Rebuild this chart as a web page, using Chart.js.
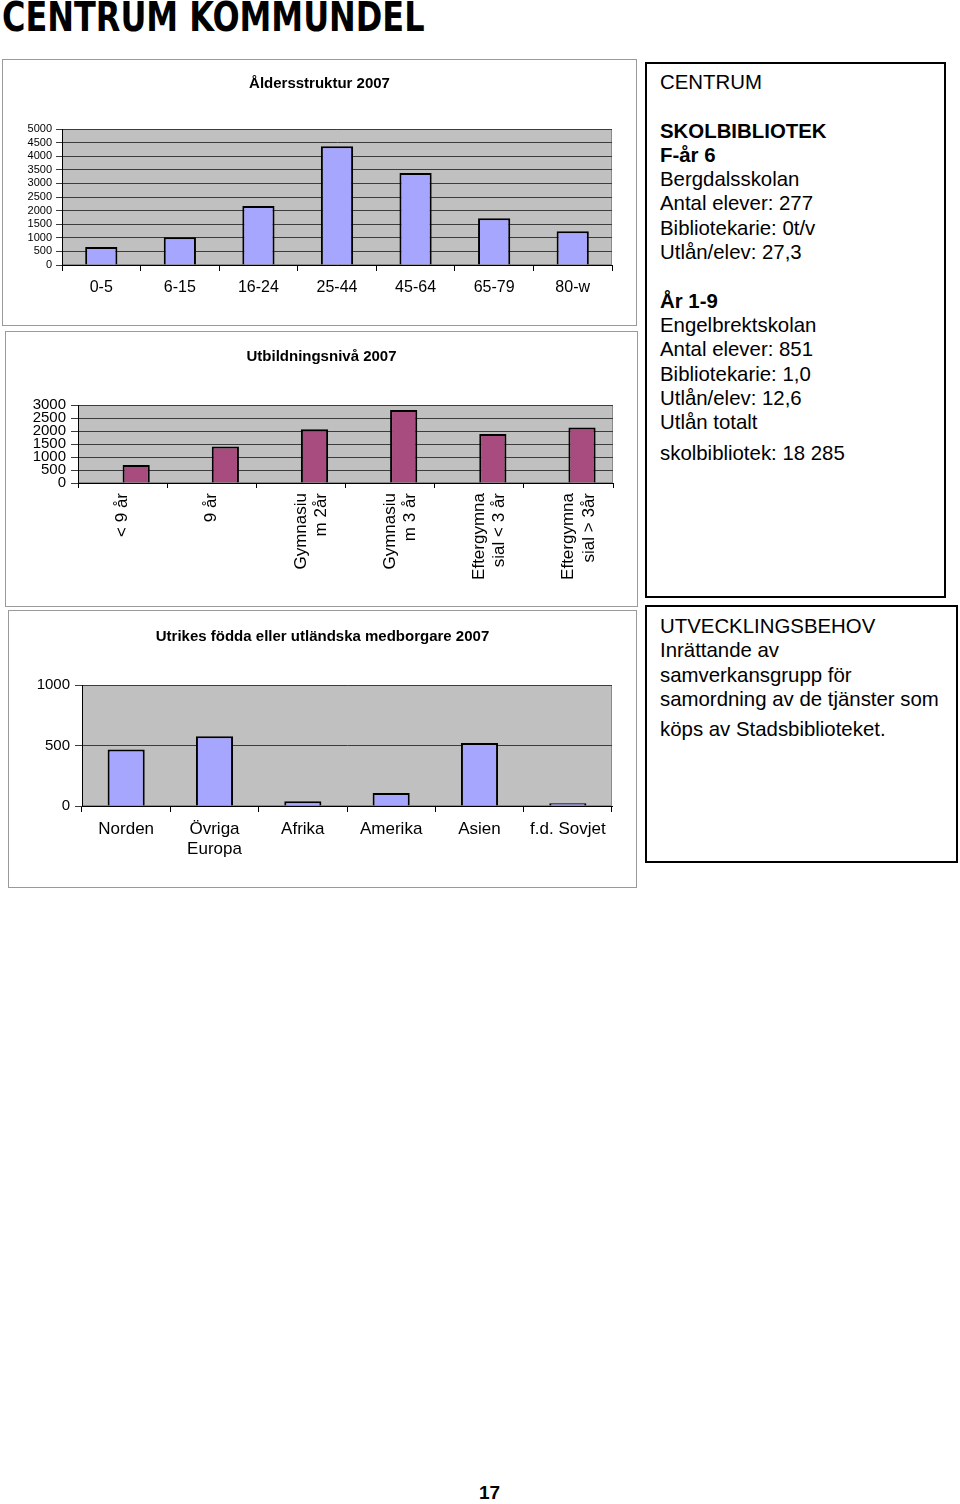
<!DOCTYPE html>
<html lang="sv">
<head>
<meta charset="utf-8">
<title>Centrum kommundel</title>
<script src="https://cdn.jsdelivr.net/npm/chart.js@4"></script>
<style>
  html, body { margin: 0; padding: 0; background: #fff; }
  body { width: 960px; height: 1504px; position: relative; font-family: "Liberation Sans", Arial, sans-serif; color: #000; overflow: hidden; }
  .page-title { position: absolute; left: 2px; top: -7px; font-family: "DejaVu Sans Condensed", "DejaVu Sans", sans-serif; font-weight: bold; font-size: 41px; white-space: nowrap; transform-origin: left top; transform: scaleX(0.866); }
  .chart-box { position: absolute; border: 1px solid #9a9a9a; background: #fff; }
  .chart-box canvas { display: block; }
  .text-box { position: absolute; border: 2px solid #000; box-sizing: border-box; padding-left: 13px; font-size: 20.4px; }
  .text-box div { height: 24.3px; line-height: 24.3px; white-space: nowrap; }
  .text-box .b { font-weight: bold; }
  .page-no { position: absolute; left: 479px; top: 1482px; font-size: 19px; font-weight: bold; }
</style>
</head>
<body>
<div class="page-title">CENTRUM KOMMUNDEL</div>

<div class="chart-box" style="left:2px; top:59px;">
  <canvas id="ageChart" width="633" height="265"></canvas>
</div>
<div class="chart-box" style="left:5px; top:331px;">
  <canvas id="eduChart" width="631" height="274"></canvas>
</div>
<div class="chart-box" style="left:8px; top:610px;">
  <canvas id="foreignChart" width="627" height="276"></canvas>
</div>

<div class="text-box" style="left:645px; top:62px; width:301px; height:536px; padding-top:6px;">
  <div>CENTRUM</div>
  <div></div>
  <div class="b">SKOLBIBLIOTEK</div>
  <div class="b">F-år 6</div>
  <div>Bergdalsskolan</div>
  <div>Antal elever: 277</div>
  <div>Bibliotekarie: 0t/v</div>
  <div>Utlån/elev: 27,3</div>
  <div></div>
  <div class="b">År 1-9</div>
  <div>Engelbrektskolan</div>
  <div>Antal elever: 851</div>
  <div>Bibliotekarie: 1,0</div>
  <div>Utlån/elev: 12,6</div>
  <div>Utlån totalt</div>
  <div style="margin-top:7px;">skolbibliotek: 18 285</div>
</div>

<div class="text-box" style="left:645px; top:605px; width:313px; height:258px; padding-top:7px;">
  <div>UTVECKLINGSBEHOV</div>
  <div>Inrättande av</div>
  <div>samverkansgrupp för</div>
  <div>samordning av de tjänster som</div>
  <div style="margin-top:6px;">köps av Stadsbiblioteket.</div>
</div>

<div class="page-no">17</div>

<script>
// ===== data =====
const ageGroups = ["0-5", "6-15", "16-24", "25-44", "45-64", "65-79", "80-w"];
const ageCounts = [660, 1020, 2170, 4370, 3380, 1720, 1240];
const ageMax = 5000;
const ageStep = 500;

const eduLevels = [
    ["< 9 år"],
    ["9 år"],
    ["Gymnasiu", "m 2år"],
    ["Gymnasiu", "m 3 år"],
    ["Eftergymna", "sial < 3 år"],
    ["Eftergymna", "sial > 3år"]
];
const eduHidden = [null, null, null, null, null, null];
const eduCounts = [690, 1400, 2065, 2805, 1885, 2130];
const eduMax = 3000;
const eduStep = 500;

const regions = ["Norden", ["Övriga", "Europa"], "Afrika", "Amerika", "Asien", "f.d. Sovjet"];
const foreignCounts = [466, 576, 39, 107, 521, 22];
const foreignMax = 1000;
const foreignStep = 500;

Chart.defaults.font.family = "'Liberation Sans', Arial, sans-serif";
Chart.defaults.color = "#000";
Chart.defaults.animation = false;

/** gray plot area like the old Excel charts */
const plotBackground = {
    id: "plotBackground",
    beforeDraw(chart) {
        const { ctx, chartArea: a } = chart;
        ctx.save();
        ctx.fillStyle = "#c0c0c0";
        ctx.fillRect(a.left, a.top, a.width, a.height);
        ctx.strokeStyle = "#8a8a8a";
        ctx.lineWidth = 1;
        ctx.strokeRect(a.left + 0.5, a.top + 0.5, a.width - 1, a.height - 1);
        ctx.restore();
    }
};

function baseOptions(cfg) {
    return {
        responsive: false,
        layout: { padding: 0 },
        plugins: {
            legend: { display: false },
            tooltip: { enabled: false },
            title: {
                display: true,
                text: cfg.title,
                font: { size: 15, weight: "bold" },
                color: "#000",
                padding: cfg.titlePadding
            }
        },
        scales: {
            x: {
                grid: { drawOnChartArea: false, drawTicks: true, tickLength: cfg.xTick, color: "#000" },
                border: { color: "#000", width: 1 },
                ticks: {
                    font: { size: cfg.xFont },
                    padding: cfg.xPad,
                    autoSkip: false,
                    minRotation: cfg.rotate,
                    maxRotation: cfg.rotate
                },
                afterFit: (axis) => { axis.height = cfg.xHeight; }
            },
            y: {
                min: 0,
                max: cfg.max,
                grid: { color: "#3c3c3c", tickLength: cfg.yTick },
                border: { color: "#000", width: 1 },
                ticks: {
                    stepSize: cfg.step,
                    autoSkip: false,
                    font: { size: cfg.yFont },
                    padding: cfg.yPad,
                    callback: (value) => String(value)
                },
                afterFit: (axis) => { axis.width = cfg.yWidth; }
            },
            // empty strip on the right so the title stays centred on the whole box
            rightGap: {
                type: "linear",
                position: "right",
                grid: { display: false },
                border: { display: false },
                ticks: { display: false },
                afterFit: (axis) => { axis.width = 24; }
            }
        }
    };
}

/** ===== Åldersstruktur 2007 ===== */
const ageCtx = document.getElementById("ageChart")?.getContext("2d");
if (ageCtx) {
    new Chart(ageCtx, {
        type: "bar",
        data: {
            labels: ageGroups,
            datasets: [{
                data: ageCounts,
                backgroundColor: "#a6a6ff",
                borderColor: "#000",
                borderWidth: 2,
                barPercentage: 0.41,
                categoryPercentage: 1
            }]
        },
        options: baseOptions({
            title: "Åldersstruktur 2007",
            titlePadding: { top: 15, bottom: 36 },
            max: ageMax, step: ageStep,
            xTick: 6, xPad: 7, xFont: 16, xHeight: 60, rotate: 0,
            yTick: 6, yPad: 4, yFont: 11, yWidth: 59
        }),
        plugins: [plotBackground]
    });
}

/** ===== Utbildningsnivå 2007 ===== */
const eduCtx = document.getElementById("eduChart")?.getContext("2d");
if (eduCtx) {
    new Chart(eduCtx, {
        type: "bar",
        data: {
            labels: eduLevels,
            datasets: [
                {
                    data: eduHidden,
                    backgroundColor: "#a6a6ff",
                    barPercentage: 1,
                    categoryPercentage: 0.61
                },
                {
                    data: eduCounts,
                    backgroundColor: "#a84b7e",
                    borderColor: "#000",
                    borderWidth: 2,
                    barPercentage: 1,
                    categoryPercentage: 0.61
                }
            ]
        },
        options: baseOptions({
            title: "Utbildningsnivå 2007",
            titlePadding: { top: 16, bottom: 39 },
            max: eduMax, step: eduStep,
            xTick: 5, xPad: 5, xFont: 17, xHeight: 123, rotate: 90,
            yTick: 7, yPad: 5, yFont: 15, yWidth: 72
        }),
        plugins: [plotBackground]
    });
}

/** ===== Utrikes födda eller utländska medborgare 2007 ===== */
const foreignCtx = document.getElementById("foreignChart")?.getContext("2d");
if (foreignCtx) {
    new Chart(foreignCtx, {
        type: "bar",
        data: {
            labels: regions,
            datasets: [{
                data: foreignCounts,
                backgroundColor: "#a6a6ff",
                borderColor: "#000",
                borderWidth: 2,
                barPercentage: 0.42,
                categoryPercentage: 1
            }]
        },
        options: baseOptions({
            title: "Utrikes födda eller utländska medborgare 2007",
            titlePadding: { top: 17, bottom: 39 },
            max: foreignMax, step: foreignStep,
            xTick: 6, xPad: 7, xFont: 17, xHeight: 81, rotate: 0,
            yTick: 7, yPad: 5, yFont: 15, yWidth: 73
        }),
        plugins: [plotBackground]
    });
}
</script>
</body>
</html>
